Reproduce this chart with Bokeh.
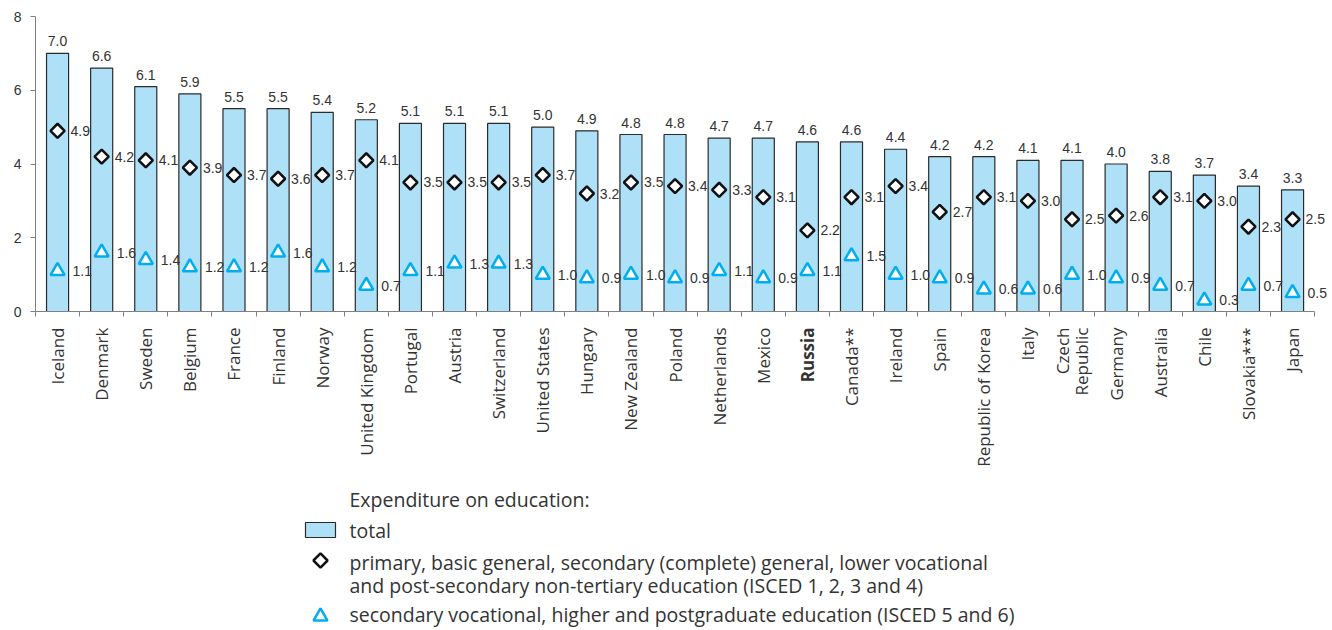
import math
from bokeh.plotting import figure
from bokeh.models import Range1d, LinearAxis, FixedTicker, ColumnDataSource
from bokeh.layouts import column
from bokeh.embed import file_html
from bokeh.resources import INLINE
from bokeh.core.properties import value

# ---------------- data ----------------
countries = ["Iceland", "Denmark", "Sweden", "Belgium", "France", "Finland", "Norway",
             "United Kingdom", "Portugal", "Austria", "Switzerland", "United States",
             "Hungary", "New Zealand", "Poland", "Netherlands", "Mexico", "Russia",
             "Canada**", "Ireland", "Spain", "Republic of Korea", "Italy",
             "Czech\nRepublic", "Germany", "Australia", "Chile", "Slovakia***", "Japan"]
total = [7.0, 6.6, 6.1, 5.9, 5.5, 5.5, 5.4, 5.2, 5.1, 5.1, 5.1, 5.0, 4.9, 4.8, 4.8,
         4.7, 4.7, 4.6, 4.6, 4.4, 4.2, 4.2, 4.1, 4.1, 4.0, 3.8, 3.7, 3.4, 3.3]
general = [4.9, 4.2, 4.1, 3.9, 3.7, 3.6, 3.7, 4.1, 3.5, 3.5, 3.5, 3.7, 3.2, 3.5, 3.4,
           3.3, 3.1, 2.2, 3.1, 3.4, 2.7, 3.1, 3.0, 2.5, 2.6, 3.1, 3.0, 2.3, 2.5]
tertiary = [1.1, 1.6, 1.4, 1.2, 1.2, 1.6, 1.2, 0.7, 1.1, 1.3, 1.3, 1.0, 0.9, 1.0, 0.9,
            1.1, 0.9, 1.1, 1.5, 1.0, 0.9, 0.6, 0.6, 1.0, 0.9, 0.7, 0.3, 0.7, 0.5]
bold_country = "Russia"
y_ticks = [0, 2, 4, 6, 8]

legend_title = "Expenditure on education:"
legend_total = "total"
legend_general = ["primary, basic general, secondary (complete) general, lower vocational",
                  "and post-secondary non-tertiary education (ISCED 1, 2, 3 and 4)"]
legend_tertiary = "secondary vocational, higher and postgraduate education (ISCED 5 and 6)"

# ---------------- styles ----------------
BAR_FILL = "#AEE0F8"
BAR_LINE = "#2a2a2a"
TRI_COLOR = "#00AEEF"
TEXT = "#333333"
AXIS = "#808080"
NUM_FONT = value("Liberation Sans")
CAT_FONT = value("Open Sans")

n = len(countries)
xs = [i + 0.5 for i in range(n)]
fmt = lambda v: f"{v:.1f}"
src = ColumnDataSource(dict(
    x=xs, total=total, general=general, tertiary=tertiary,
    total_lbl=[fmt(v) for v in total],
    general_lbl=[fmt(v) for v in general],
    tertiary_lbl=[fmt(v) for v in tertiary],
))

W = 1330
x_range = Range1d(0, n + 0.36)

p = figure(width=W, height=320, x_range=x_range, y_range=Range1d(0, 8),
           x_axis_location=None, y_axis_location="left",
           output_backend="svg", toolbar_location=None,
           min_border_left=35, min_border_right=0, min_border_top=16, min_border_bottom=9)
p.grid.visible = False
p.outline_line_color = None

# y axis
ya = p.yaxis[0]
ya.ticker = FixedTicker(ticks=y_ticks)
ya.axis_line_color = AXIS
ya.major_tick_line_color = AXIS
ya.major_tick_out = 5
ya.major_tick_in = 0
ya.minor_tick_line_color = None
ya.major_label_text_font = "Liberation Sans"
ya.major_label_text_font_size = "14px"
ya.major_label_text_color = TEXT
ya.major_label_standoff = 9

# x axis: ticks at category boundaries
xa = LinearAxis(ticker=FixedTicker(ticks=[], minor_ticks=list(range(n + 1))), bounds=(0, n))
xa.axis_line_color = AXIS
xa.major_tick_line_color = None
xa.minor_tick_line_color = AXIS
xa.minor_tick_out = 5
xa.minor_tick_in = 0
p.add_layout(xa, "below")

# bars
p.vbar(x="x", top="total", width=0.5, bottom=0, source=src,
       fill_color=BAR_FILL, line_color=BAR_LINE, line_width=1.2)
p.text(x="x", y="total", text="total_lbl", source=src, text_align="center",
       text_baseline="alphabetic", y_offset=-12, text_font=NUM_FONT,
       text_font_size="14px", text_color=TEXT)

# diamonds
p.scatter(x="x", y="general", source=src, marker="square", angle=math.pi / 4, size=10,
          fill_color="white", line_color="#111111", line_width=2.5)
p.text(x="x", y="general", text="general_lbl", source=src, text_align="left",
       text_baseline="middle", x_offset=13, text_font=NUM_FONT,
       text_font_size="14px", text_color=TEXT)

# triangles
p.scatter(x="x", y="tertiary", source=src, marker="triangle", size=14,
          fill_color="white", line_color=TRI_COLOR, line_width=2.5)
p.text(x="x", y="tertiary", text="tertiary_lbl", source=src, text_align="left",
       text_baseline="middle", x_offset=15, text_font=NUM_FONT,
       text_font_size="14px", text_color=TEXT)

# ---------------- category labels + legend (second panel, shared x) ----------------
TOP = 320
H = 630 - TOP
q = figure(width=W, height=H, x_range=x_range, y_range=Range1d(0, H),
           x_axis_location=None, y_axis_location=None, output_backend="svg",
           toolbar_location=None, min_border_left=35, min_border_right=0,
           min_border_top=0, min_border_bottom=0)
q.extra_x_ranges = {"px": Range1d(35, W)}
q.grid.visible = False
q.outline_line_color = None

def py(page_y):
    return 630 - page_y

lab_src = ColumnDataSource(dict(
    x=xs, y=[py(327)] * n, text=countries,
    style=["bold" if c == bold_country else "normal" for c in countries],
))
q.text(x="x", y="y", text="text", source=lab_src, angle=math.pi / 2,
       text_align="right", text_baseline="middle", text_font=CAT_FONT,
       text_font_size="17px", text_font_style="style", text_color=TEXT,
       text_line_height=0.85)

LX = 349
q.quad(left=[305], right=[335], top=[py(522)], bottom=[py(537)], x_range_name="px",
       fill_color=BAR_FILL, line_color=BAR_LINE, line_width=1.2)
q.scatter(x=[320], y=[py(560)], marker="square", angle=math.pi / 4, size=10,
          x_range_name="px", fill_color="white", line_color="#111111", line_width=2.5)
q.scatter(x=[320], y=[py(616)], marker="triangle", size=14, x_range_name="px",
          fill_color="white", line_color=TRI_COLOR, line_width=2.5)
leg_texts = [legend_title, legend_total] + legend_general + [legend_tertiary]
leg_base = [py(v) for v in (499, 530, 562, 585, 614)]
q.text(x=[LX] * len(leg_texts), y=leg_base, text=leg_texts, x_range_name="px",
       text_align="left", text_baseline="alphabetic", text_font=CAT_FONT,
       text_font_size="19.5px", text_color=TEXT)

layout = column(p, q, spacing=0)
open("out.html", "w").write(file_html(layout, INLINE))
